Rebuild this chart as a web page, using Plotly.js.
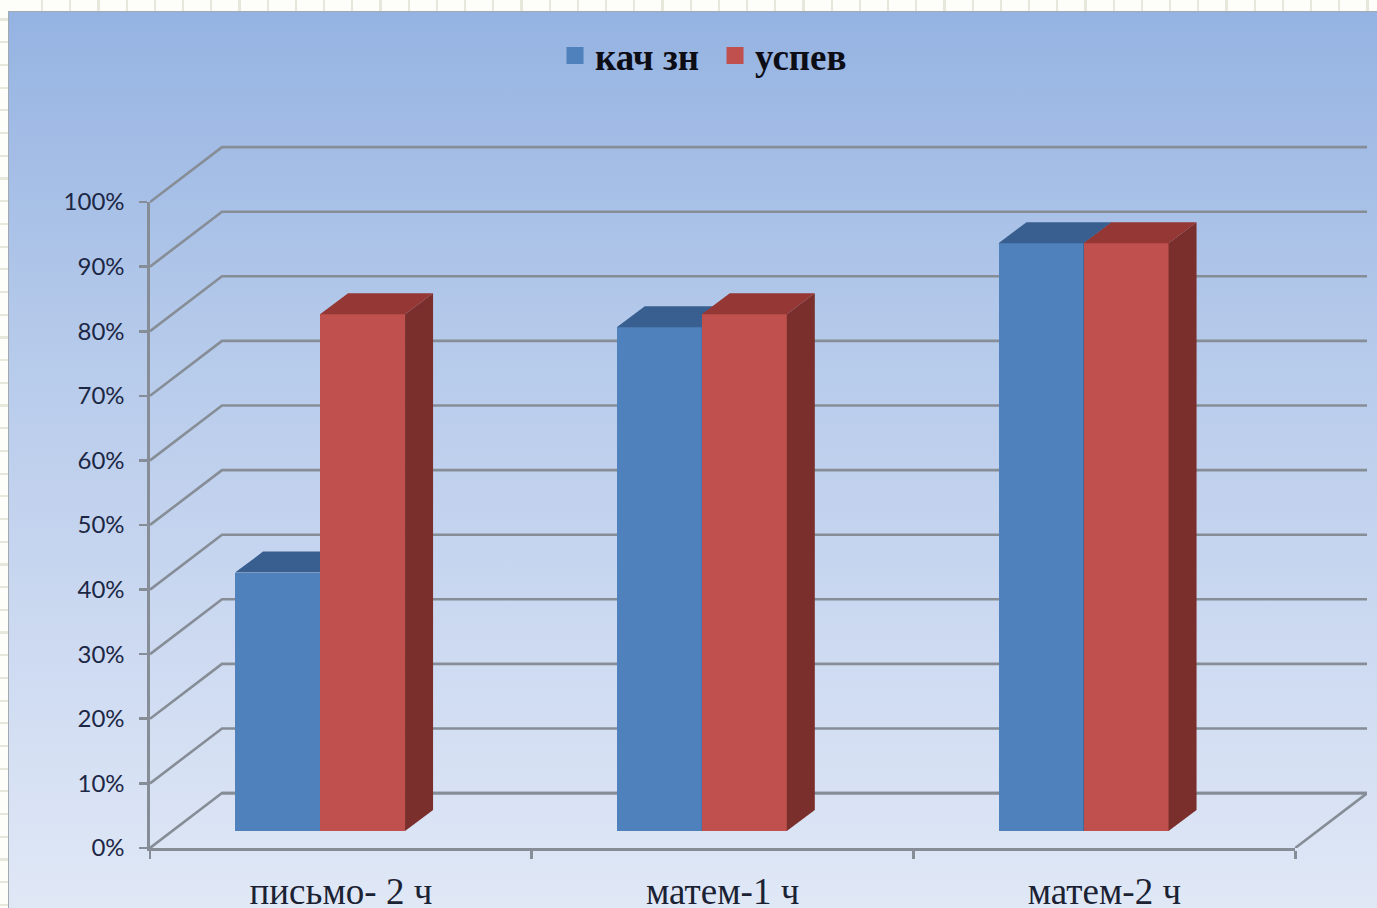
<!DOCTYPE html>
<html>
<head>
<meta charset="utf-8">
<script src="https://cdn.plot.ly/plotly-3.0.1.min.js"></script>
<style>
html,body{margin:0;padding:0;width:1377px;height:908px;overflow:hidden;background:#fff;}
#sheet{position:absolute;left:0;top:0;width:1377px;height:908px;
background-color:#fdfdfa;
background-image:repeating-linear-gradient(to right,transparent 0,transparent 26px,#e6e8dc 26px,#e6e8dc 28.2px),
repeating-linear-gradient(to bottom,transparent 0,transparent 20.5px,#e6e8dc 20.5px,#e6e8dc 22.7px);
background-position:15px 0,0 -2px;}
#panel{position:absolute;left:8px;top:11px;width:1369px;height:897px;border-left:1.5px solid #a3a9b0;border-top:1.5px solid #a3a9b0;box-sizing:border-box;
background:linear-gradient(to bottom,#95b3e2 0%,#b4c9ea 35%,#c9d7f0 65%,#e0e8f6 100%);}
#chart{position:absolute;left:0;top:0;width:1377px;height:908px;}
</style>
</head>
<body>
<div id="sheet"></div><div id="panel"></div><div id="chart"></div>
<script>
const categories = ['письмо- 2 ч', 'матем-1 ч', 'матем-2 ч'];
const kachZn = [40, 78, 91];
const uspev = [80, 80, 91];
const tickValues = [0, 10, 20, 30, 40, 50, 60, 70, 80, 90, 100];
const tickLabels = ['0%', '10%', '20%', '30%', '40%', '50%', '60%', '70%', '80%', '90%', '100%'];
const seriesNames = ['кач зн', 'успев'];

// pseudo-3D projection, in axis units
const wallDx = 0.1886, wallDy = 8.5, xEnd = categories.length, xMax = 3.188, yMax = 108.98;
const barW = 0.2227, barStart = 0.2227, floorDy = 2.63, depthDx = 0.0734, depthDy = 3.25;
const axisGrey = '#868d96';

const gridX = [], gridY = [];
tickValues.forEach(t => { gridX.push(0, wallDx, xMax, null); gridY.push(t, t + wallDy, t + wallDy, null); });
gridX.push(xEnd, wallDx + xEnd, wallDx, null);
gridY.push(0, wallDy, wallDy, null);

function faces(vals, offset) {
  const top = {x: [], y: []}, side = {x: [], y: []};
  vals.forEach((v, i) => {
    const l = i + barStart + offset * barW, r = l + barW, b = floorDy, h = v + floorDy;
    top.x.push(l, r, r + depthDx, l + depthDx, l, null);
    top.y.push(h, h, h + depthDy, h + depthDy, h, null);
    side.x.push(r, r + depthDx, r + depthDx, r, r, null);
    side.y.push(b, b + depthDy, h + depthDy, h, b, null);
  });
  return {top, side};
}
function layer(vals, offset, name, front, topCol, sideCol, xa, ya) {
  const f = faces(vals, offset);
  const poly = (p, c) => ({type: 'scatter', mode: 'lines', x: p.x, y: p.y, xaxis: xa, yaxis: ya, fill: 'toself',
    fillcolor: c, line: {width: 0, color: c}, showlegend: false, hoverinfo: 'skip'});
  return [
    {type: 'bar', name: name, x: vals.map((v, i) => i + barStart + (offset + 0.5) * barW), y: vals,
     base: vals.map(() => floorDy), width: barW, xaxis: xa, yaxis: ya, marker: {color: front, line: {width: 0}},
     showlegend: false, hoverinfo: 'skip'},
    poly(f.side, sideCol), poly(f.top, topCol),
    {type: 'bar', name: name, x: [0], y: [null], xaxis: xa, yaxis: ya, marker: {color: front, line: {width: 5, color: front}}, showlegend: true, hoverinfo: 'skip'}
  ];
}
const gridTrace = {type: 'scatter', mode: 'lines', x: gridX, y: gridY, cliponaxis: false,
  line: {color: axisGrey, width: 2.6}, showlegend: false, hoverinfo: 'skip'};
const axisTrace = {type: 'scatter', mode: 'lines', x: [0], y: [0], xaxis: 'x5', yaxis: 'y5', showlegend: false, hoverinfo: 'skip', line: {width: 0}};
const data = [gridTrace, axisTrace]
  .concat(layer(kachZn, 0, seriesNames[0], '#4f81bd', '#385f8f', '#2f4f7a', 'x2', 'y2'))
  .concat(layer(uspev, 1, seriesNames[1], '#c0504d', '#953735', '#7a2f2d', 'x3', 'y3'));

const hidden = a => ({range: [0, a === 'x' ? xMax : yMax], visible: false, fixedrange: true});
const layout = {
  width: 1377, height: 908, margin: {l: 150, r: 10, t: 144, b: 60, pad: 0},
  paper_bgcolor: 'rgba(0,0,0,0)', plot_bgcolor: 'rgba(0,0,0,0)', barmode: 'overlay', bargap: 0,
  showlegend: true,
  legend: {orientation: 'h', x: 0.3328, xref: 'paper', xanchor: 'left', y: 1.169, yanchor: 'top', bgcolor: 'rgba(0,0,0,0)', entrywidth: 115, entrywidthmode: 'pixels',
    font: {family: '"Liberation Serif", serif', size: 37, color: '#0d0d16', weight: 'bold'}, traceorder: 'normal'},
  xaxis: hidden('x'), yaxis: hidden('y'),
  xaxis2: Object.assign(hidden('x'), {overlaying: 'x'}), yaxis2: Object.assign(hidden('y'), {overlaying: 'y'}),
  xaxis3: Object.assign(hidden('x'), {overlaying: 'x'}), yaxis3: Object.assign(hidden('y'), {overlaying: 'y'}),
  xaxis5: {domain: [0, xEnd / xMax], anchor: 'y5', range: [0, xEnd], tickmode: 'array', tickvals: categories.map((c, i) => i + 0.5), ticktext: categories,
    ticks: '', showgrid: false, zeroline: false, showline: true, linecolor: axisGrey, linewidth: 2.6, fixedrange: true, ticklabelstandoff: 9,
    tickfont: {family: '"Liberation Serif", serif', size: 37, color: '#1b2233'},
    minor: {tickmode: 'array', tickvals: [0, 1, 2, 3], ticks: 'outside', ticklen: 8, tickwidth: 2.6, tickcolor: axisGrey, showgrid: false}},
  yaxis5: {domain: [0, 100 / yMax], anchor: 'x5', range: [0, 100], tickmode: 'array', tickvals: tickValues, ticktext: tickLabels, ticks: 'outside', ticklen: 8, tickwidth: 2.6,
    tickcolor: axisGrey, showgrid: false, zeroline: false, showline: true, linecolor: axisGrey, linewidth: 2.6, fixedrange: true, ticklabelstandoff: 10,
    tickfont: {family: 'Lato, sans-serif', size: 24, color: '#1c2745'}}
};
Plotly.newPlot('chart', data, layout, {displayModeBar: false, staticPlot: true});
</script>
</body>
</html>
